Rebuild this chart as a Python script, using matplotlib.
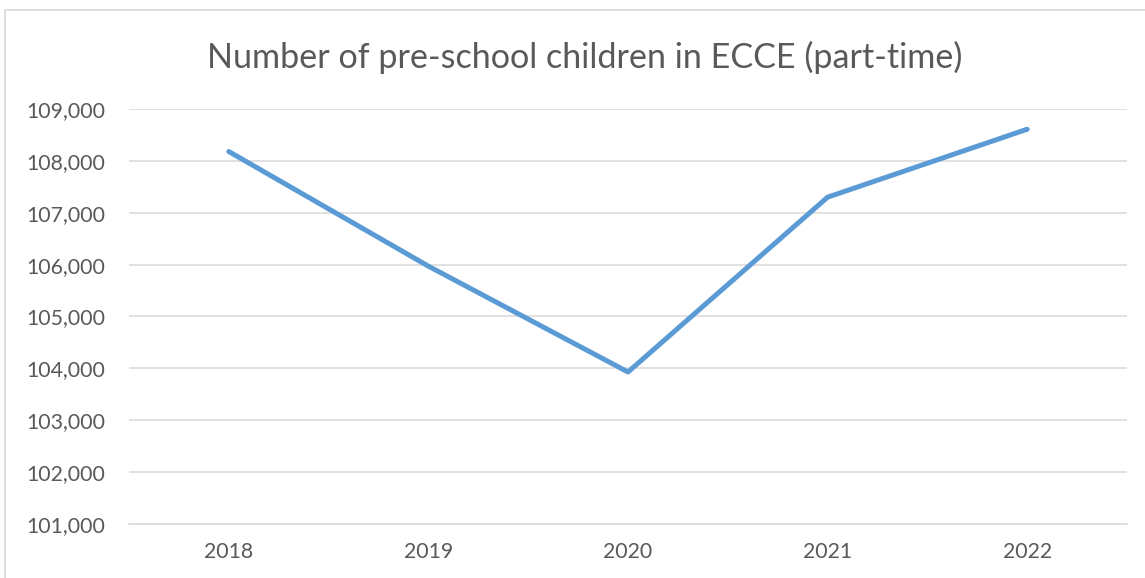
import matplotlib.pyplot as plt
from matplotlib.ticker import FuncFormatter
from matplotlib.patches import Rectangle

years = ['2018', '2019', '2020', '2021', '2022']
children = [108180, 105970, 103930, 107300, 108610]
y_ticks = [101000, 102000, 103000, 104000, 105000, 106000, 107000, 108000, 109000]

plt.rcParams['font.family'] = ['Lato', 'DejaVu Sans']

fig = plt.figure(figsize=(11.45, 5.78), dpi=100)
ax = fig.add_axes([129 / 1145, 1 - 524 / 578, (1127 - 129) / 1145, (524 - 109) / 578])

# chart area border
fig.patches.append(Rectangle((4.5 / 1145, -0.1), 1.2, 1 - 10.5 / 578 + 0.1,
                             transform=fig.transFigure, fill=False,
                             edgecolor='#d9d9d9', lw=1.2))

x = range(len(years))
ax.plot(x, children, color='#5b9bd5', lw=3.6, solid_capstyle='round',
        solid_joinstyle='round', zorder=3)

ax.set_xlim(-0.5, len(years) - 0.5)
ax.set_ylim(101000, 109000)
ax.set_yticks(y_ticks)
ax.yaxis.set_major_formatter(FuncFormatter(lambda v, pos: f'{v:,.0f}'))
ax.set_xticks(list(x))
ax.set_xticklabels(years)

ax.grid(axis='y', color='#d9d9d9', lw=1.1)
ax.set_axisbelow(True)
for s in ['top', 'right', 'left']:
    ax.spines[s].set_visible(False)
ax.spines['bottom'].set_color('#d9d9d9')
ax.spines['bottom'].set_linewidth(1.1)
ax.tick_params(axis='both', length=0, labelsize=15.3, labelcolor='#595959')
ax.tick_params(axis='y', pad=17)
ax.tick_params(axis='x', pad=13)

fig.text(585 / 1145, 1 - 57 / 578, 'Number of pre-school children in ECCE (part-time)',
         ha='center', va='center', fontsize=24.6, color='#595959')

fig.savefig('out.png', dpi=100)
